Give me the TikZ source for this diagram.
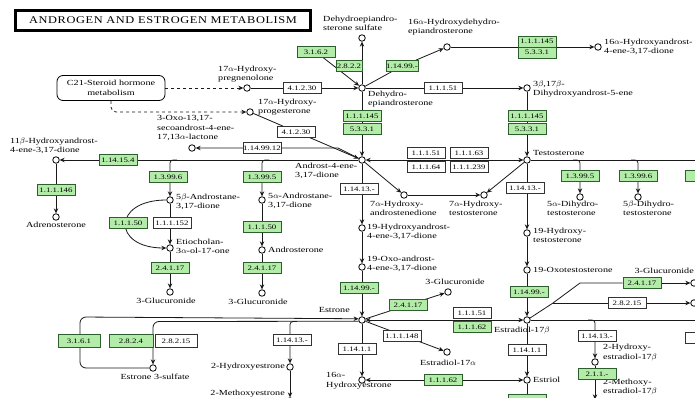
\documentclass[tikz,border=0pt]{standalone}
\usepackage{fontspec}
\setmainfont{Liberation Serif}[FakeStretch=1.3]
\newfontfamily\titlefont{Liberation Serif}[FakeStretch=1.2,LetterSpace=6]
\usetikzlibrary{arrows.meta}
\pgfdeclarelayer{bg}
\pgfsetlayers{bg,main}
\definecolor{kgreen}{RGB}{178,236,168}
\definecolor{kgreenD}{RGB}{45,95,45}
\tikzset{
  cpd/.style={circle, draw, fill=white, inner sep=0pt, minimum size=6.5pt, line width=0.8pt},
  ebox/.style={draw, line width=0.6pt, minimum width=38pt, minimum height=11pt, inner sep=0pt, font=\fontsize{6.8}{7}\selectfont},
  gbox/.style={ebox, fill=kgreen, draw=kgreenD},
  wbox/.style={ebox, fill=white, draw=black!80},
  lbl/.style={font=\fontsize{7.8}{9.5}\selectfont, inner sep=0pt, align=left},
  conn/.style={line width=0.8pt, draw=black!90},
  tip/.tip={Stealth[length=5pt,width=4.5pt]},
  arr/.style={conn, -tip},
  barr/.style={conn, tip-tip},
}
\begin{document}
\begin{tikzpicture}[x=1pt,y=-1pt]
\useasboundingbox (0,0) rectangle (695,398);

% title
\node[draw, line width=1.8pt, minimum width=296pt, minimum height=21pt, inner sep=0pt] (title) at (163,20.5)
  {\titlefont\fontsize{10.3}{10}\selectfont ANDROGEN AND ESTROGEN METABOLISM};
\draw[line width=0.4pt] ([shift={(2.5pt,-2.5pt)}]title.north west) rectangle ([shift={(-2.5pt,2.5pt)}]title.south east);

% map link
\node[draw, rounded corners=6pt, line width=0.8pt, minimum width=108pt, minimum height=25pt, lbl, align=center] (c21) at (111,88)
  {C21-Steroid hormone\\metabolism};

% compounds
\node[cpd] (preg17) at (247,88) {};
\node[cpd] (prog17) at (250,112) {};
\node[cpd] (dheas) at (362,38) {};
\node[cpd] (ohdhea) at (447,47) {};
\node[cpd] (ohad) at (598,47) {};
\node[cpd] (dhea) at (362,88) {};
\node[cpd] (diol) at (527,88) {};
\node[cpd] (lact) at (192,148) {};
\node[cpd] (ad) at (362,160) {};
\node[cpd] (t) at (527,160) {};
\node[cpd] (o11b) at (56,160) {};
\node[cpd] (adren) at (56,217) {};
\node[cpd] (bad) at (170,200) {};
\node[cpd] (etio) at (170,248) {};
\node[cpd] (gluc1) at (170,292) {};
\node[cpd] (aad) at (262,200) {};
\node[cpd] (andro) at (262,250) {};
\node[cpd] (gluc2) at (262,293) {};
\node[cpd] (ha7) at (404,195) {};
\node[cpd] (ht7) at (484,195) {};
\node[cpd] (ha19) at (362,228) {};
\node[cpd] (oa19) at (362,267) {};
\node[cpd] (dht) at (580,197) {};
\node[cpd] (bdht) at (638,197) {};
\node[cpd] (ht19) at (527,233) {};
\node[cpd] (ot19) at (527,270) {};
\node[cpd] (e1) at (362,320) {};
\node[cpd] (e2) at (527,320) {};
\node[cpd] (glucE1) at (448,292) {};
\node[cpd] (e2a) at (447,352) {};
\node[cpd] (e1s) at (153,368) {};
\node[cpd] (ohe2) at (290,367) {};
\node[cpd] (me1) at (290,401) {};
\node[cpd] (ohe16) at (362,380) {};
\node[cpd] (e3) at (527,380) {};
\node[cpd] (ohe2b) at (595,362) {};
\node[cpd] (me2) at (595,403) {};
\node[cpd] (glucE2) at (694,283) {};
\node[cpd] (e2s) at (694,303) {};

\coordinate (rt) at (705,160);
\coordinate (re) at (705,320);
\coordinate (e3d) at (527,410);

% compound labels
\node[lbl, anchor=north west] (l-dheas) at (323,15.5) {Dehydroepiandro-\\sterone sulfate};
\node[lbl, anchor=north west] (l-ohdhea) at (408,18.5) {16$\alpha$-Hydroxydehydro-\\epiandrosterone};
\node[lbl, anchor=north west] (l-ohad) at (604,38.5) {16$\alpha$-Hydroxyandrost-\\4-ene-3,17-dione};
\node[lbl, anchor=north west] (l-diol) at (533,80.5) {3$\beta$,17$\beta$-\\Dihydroxyandrost-5-ene};
\node[lbl, anchor=north west] (l-dhea) at (368,90.5) {Dehydro-\\epiandrosterone};
\node[lbl, anchor=north west] (l-preg17) at (218,65.5) {17$\alpha$-Hydroxy-\\pregnenolone};
\node[lbl, anchor=north west] (l-prog17) at (258,98.5) {17$\alpha$-Hydroxy-\\progesterone};
\node[lbl, anchor=north west] (l-lact) at (157,115.5) {3-Oxo-13,17-\\secoandrost-4-ene-\\17,13$\alpha$-lactone};
\node[lbl, anchor=north west] (l-o11b) at (10,137.5) {11$\beta$-Hydroxyandrost-\\4-ene-3,17-dione};
\node[lbl] (l-adren) at (56,225) {Adrenosterone};
\node[lbl, anchor=north west] (l-bad) at (176,193.5) {5$\beta$-Androstane-\\3,17-dione};
\node[lbl, anchor=north west] (l-etio) at (176,238.5) {Etiocholan-\\3$\alpha$-ol-17-one};
\node[lbl] (l-gluc1) at (166,301) {3-Glucuronide};
\node[lbl, anchor=north west] (l-aad) at (268,192.5) {5$\alpha$-Androstane-\\3,17-dione};
\node[lbl, anchor=west] (l-andro) at (268,250) {Androsterone};
\node[lbl] (l-gluc2) at (258,302) {3-Glucuronide};
\node[lbl, anchor=north west] (l-ad) at (295,162.5) {Androst-4-ene-\\3,17-dione};
\node[lbl, anchor=west] (l-t) at (533,153) {Testosterone};
\node[lbl, anchor=north west] (l-ha7) at (370,200.5) {7$\alpha$-Hydroxy-\\androstenedione};
\node[lbl, anchor=north west] (l-ht7) at (449,200.5) {7$\alpha$-Hydroxy-\\testosterone};
\node[lbl, anchor=north west] (l-ha19) at (367,223.5) {19-Hydroxyandrost-\\4-ene-3,17-dione};
\node[lbl, anchor=north west] (l-oa19) at (367,255.5) {19-Oxo-androst-\\4-ene-3,17-dione};
\node[lbl, anchor=north west] (l-dht) at (547,200.5) {5$\alpha$-Dihydro-\\testosterone};
\node[lbl, anchor=north west] (l-bdht) at (623,200.5) {5$\beta$-Dihydro-\\testosterone};
\node[lbl, anchor=north west] (l-ht19) at (533,227.5) {19-Hydroxy-\\testosterone};
\node[lbl, anchor=west] (l-ot19) at (533,270) {19-Oxotestosterone};
\node[lbl, anchor=east] (l-e1) at (350,310) {Estrone};
\node[lbl] (l-glucE1) at (455,282) {3-Glucuronide};
\node[lbl] (l-e2a) at (448,363) {Estradiol-17$\alpha$};
\node[lbl, anchor=west] (l-e2) at (494,330) {Estradiol-17$\beta$};
\node[lbl, anchor=west] (l-e3) at (533,380) {Estriol};
\node[lbl, anchor=north west] (l-ohe16) at (326,372.5) {16$\alpha$-\\Hydroxyestrone};
\node[lbl] (l-e1s) at (155,377) {Estrone 3-sulfate};
\node[lbl, anchor=east] (l-ohe2) at (285,367) {2-Hydroxyestrone};
\node[lbl, anchor=east] (l-me1) at (285,394) {2-Methoxyestrone};
\node[lbl, anchor=north west] (l-ohe2b) at (603,344) {2-Hydroxy-\\estradiol-17$\beta$};
\node[lbl, anchor=north west] (l-me2) at (603,378.5) {2-Methoxy-\\estradiol-17$\beta$};
\node[lbl, anchor=east] (l-glucE2) at (694,271) {3-Glucuronide};

% enzyme boxes
\node[gbox] (b3162) at (316,52) {3.1.6.2};
\node[gbox, minimum width=26pt] (b2822) at (349,66) {2.8.2.2};
\node[gbox, minimum width=32pt] (b11499a) at (402,66) {1.14.99.-};
\node[gbox] (b111145a) at (537,41.5) {1.1.1.145};
\node[gbox] (b5331a) at (537,52.5) {5.3.3.1};
\node[wbox] (b41230a) at (302,88) {4.1.2.30};
\node[wbox] (b11151a) at (443,88) {1.1.1.51};
\node[gbox] (b111145b) at (362,116) {1.1.1.145};
\node[gbox] (b5331b) at (362,129) {5.3.3.1};
\node[gbox] (b111145c) at (527,116) {1.1.1.145};
\node[gbox] (b5331c) at (527,129) {5.3.3.1};
\node[wbox] (b41230b) at (296,132) {4.1.2.30};
\node[wbox] (b1149912) at (262,148) {1.14.99.12};
\node[gbox] (b114154) at (118,160) {1.14.15.4};
\node[gbox] (b111146) at (56,190) {1.1.1.146};
\node[gbox] (b13996a) at (168,177) {1.3.99.6};
\node[gbox] (b11150a) at (128,223) {1.1.1.50};
\node[wbox] (b111152) at (172,223) {1.1.1.152};
\node[gbox] (b24117a) at (170,268) {2.4.1.17};
\node[gbox] (b13995a) at (262,177) {1.3.99.5};
\node[gbox] (b11150b) at (262,227) {1.1.1.50};
\node[gbox] (b24117b) at (262,268) {2.4.1.17};
\node[wbox] (b11413a) at (359,189) {1.14.13.-};
\node[wbox] (b11151b) at (426,153) {1.1.1.51};
\node[wbox] (b11163) at (469,153) {1.1.1.63};
\node[wbox] (b11164) at (426,167) {1.1.1.64};
\node[wbox] (b111239) at (469,167) {1.1.1.239};
\node[wbox] (b11413b) at (525,188) {1.14.13.-};
\node[gbox] (b13995b) at (580,176) {1.3.99.5};
\node[gbox] (b13996b) at (638,176) {1.3.99.6};
\node[gbox] (bedge1) at (704,176) {};
\node[gbox] (b11499b) at (359,288) {1.14.99.-};
\node[gbox] (b11499c) at (529,292) {1.14.99.-};
\node[wbox] (b11151c) at (472,313) {1.1.1.51};
\node[gbox] (b11162a) at (472,327) {1.1.1.62};
\node[gbox] (b24117c) at (408,305) {2.4.1.17};
\node[wbox] (b111148) at (402,336) {1.1.1.148};
\node[wbox] (b11411a) at (357,349) {1.14.1.1};
\node[gbox] (b11162b) at (443,380) {1.1.1.62};
\node[wbox] (b11411b) at (527,350) {1.14.1.1};
\node[gbox] (bedge2) at (527,400) {};
\node[wbox] (b11413c) at (292,340) {1.14.13.-};
\node[gbox, minimum width=42pt, minimum height=13pt] (b3161) at (79,341) {3.1.6.1};
\node[gbox, minimum width=44pt, minimum height=13pt] (b2824) at (131,341) {2.8.2.4};
\node[wbox, minimum width=42pt, minimum height=13pt] (b28215a) at (176,341) {2.8.2.15};
\node[gbox] (b24117d) at (642,283) {2.4.1.17};
\node[wbox] (b28215b) at (627,303) {2.8.2.15};
\node[wbox] (b11413d) at (597,336) {1.14.13.-};
\node[gbox] (b211) at (597,374) {2.1.1.-};
\node[wbox] (bedge3) at (704,338) {};

% connectors
\begin{pgfonlayer}{bg}
\draw[conn, dashed, -tip] (c21) -- (preg17);
\draw[conn, dashed, rounded corners=5pt, -tip] (c21.south) |- (prog17);
\draw[arr] (preg17) -- (dhea);
\draw[arr] (prog17) -- (ad);
\draw[arr] (b3162) -- (dhea);
\draw[arr] (dhea) -- (dheas);
\draw[conn] (dhea) -- (b11499a);
\draw[arr] (b11499a) -- (ohdhea);
\draw[arr] (ohdhea) -- (ohad);
\draw[arr] (dhea) -- (diol);
\draw[arr] (diol) -- (t);
\draw[arr] (dhea) -- (ad);
\draw[barr] (ad) -- (t);
\draw[conn] (t) -- (rt);
\draw[arr] (ad) -- (338,148) -- (lact);
\draw[arr] (ad) -- (o11b);
\draw[arr] (o11b) -- (adren);
\draw[arr, rounded corners=3pt] (177,160) -| (bad);
\draw[arr] (bad) -- (etio);
\draw[arr] (bad.west) .. controls (112,200) and (112,248) .. (etio.west);
\draw[arr] (etio) -- (gluc1);
\draw[arr, rounded corners=3pt] (269,160) -| (aad);
\draw[arr] (aad) -- (andro);
\draw[arr] (andro) -- (gluc2);
\draw[arr] (ad) -- (ha7);
\draw[arr] (t) -- (ht7);
\draw[arr] (ha7) -- (ht7);
\draw[arr] (ad) -- (ha19);
\draw[arr] (ha19) -- (oa19);
\draw[arr] (oa19) -- (e1);
\draw[arr, rounded corners=3pt] (573,160) -| (dht);
\draw[arr, rounded corners=3pt] (631,160) -| (bdht);
\draw[conn, rounded corners=3pt] (697,160) -| (bedge1);
\draw[arr] (t) -- (ht19);
\draw[arr] (ht19) -- (ot19);
\draw[arr] (ot19) -- (e2);
\draw[barr] (e1) -- (e2);
\draw[conn] (e2) -- (re);
\draw[conn] (e2) -- (553,303) -- (580,283) -- (b24117d);
\draw[arr] (b24117d) -- (glucE2);
\draw[arr] (553,303) -- (e2s);
\draw[arr, rounded corners=3pt] (588,320) -| (ohe2b);
\draw[arr] (ohe2b) -- (me2);
\draw[conn, rounded corners=3pt] (697,320) -| (bedge3);
\draw[arr] (e1) -- (glucE1);
\draw[arr] (e1) -- (e2a);
\draw[arr] (e1) -- (ohe16);
\draw[barr] (ohe16) -- (e3);
\draw[arr] (e2) -- (e3);
\draw[conn] (e3) -- (e3d);
\draw[arr, rounded corners=6pt] (e1s.west) -- (80,368) -- (80,317) -- (e1.160);
\draw[arr, rounded corners=6pt] (e1.200) -- (153,321.5) -- (e1s.north);
\draw[arr, rounded corners=3pt] (297,321.5) -| (ohe2);
\draw[arr] (ohe2) -- (me1);
\end{pgfonlayer}
\end{tikzpicture}
\end{document}
